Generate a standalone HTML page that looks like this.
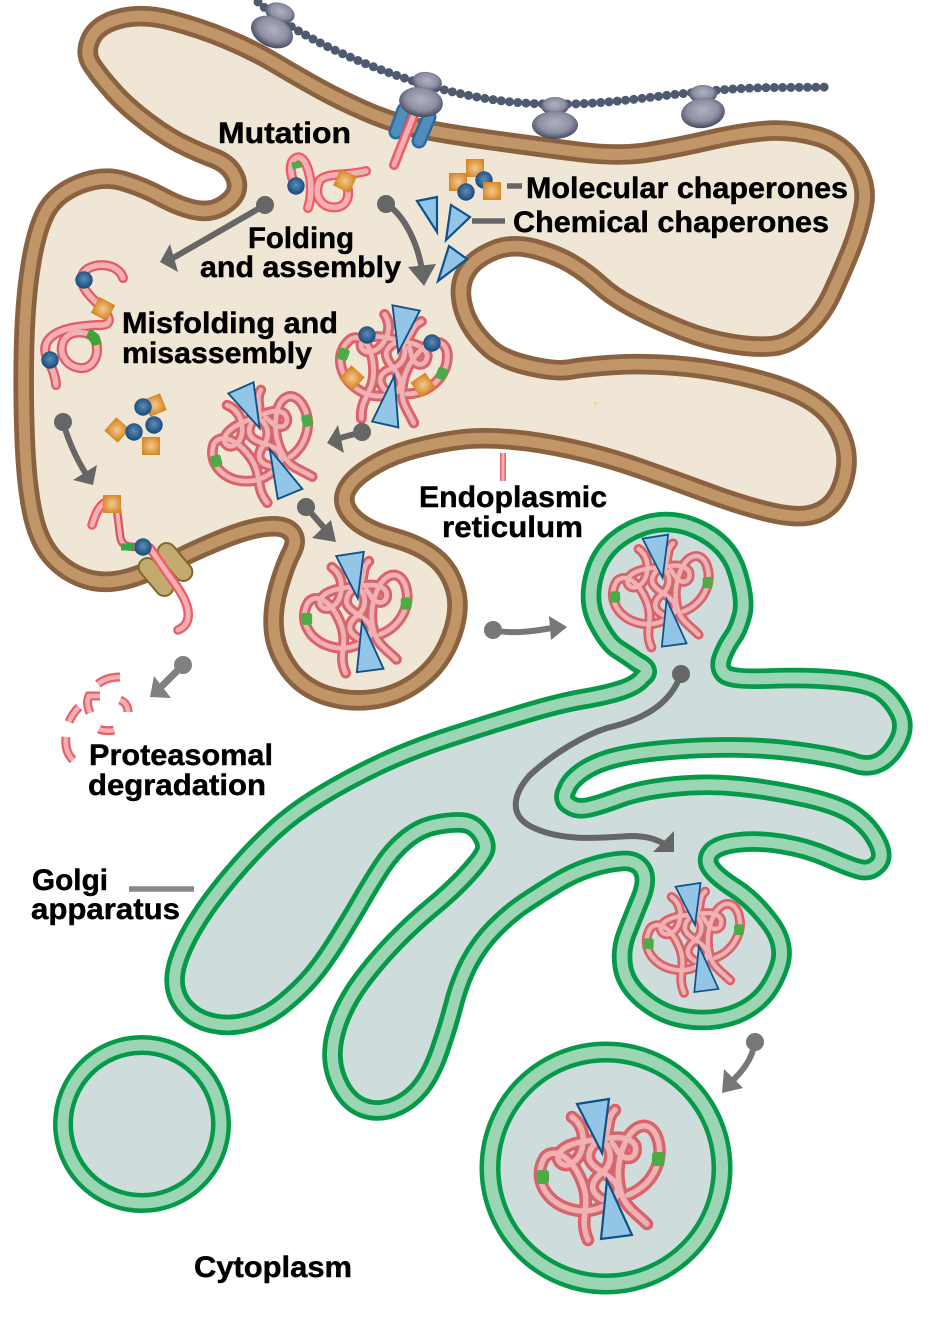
<!DOCTYPE html>
<html>
<head>
<meta charset="utf-8">
<style>
html,body{margin:0;padding:0;background:#fff;}
svg{display:block;}
text{font-family:"Liberation Sans",sans-serif;font-weight:700;font-size:30px;fill:#000;stroke:#000;stroke-width:.45px;}
</style>
</head>
<body>
<svg width="945" height="1320" viewBox="0 0 945 1320" xmlns="http://www.w3.org/2000/svg">
<defs>
<radialGradient id="rib" cx="50%" cy="42%" r="58%"><stop offset="0" stop-color="#b0b2c1"/><stop offset="0.6" stop-color="#8e90a3"/><stop offset="1" stop-color="#44475d"/></radialGradient>
<radialGradient id="blu" cx="50%" cy="45%" r="55%"><stop offset="0" stop-color="#5f8cb2"/><stop offset="1" stop-color="#14487c"/></radialGradient>
<radialGradient id="org" cx="50%" cy="50%" r="65%"><stop offset="0" stop-color="#f3c890"/><stop offset="1" stop-color="#d5821d"/></radialGradient>

<g id="sq"><rect x="-8.5" y="-8.5" width="17" height="17" fill="url(#org)" stroke="#d58a2a" stroke-width="1"/></g>
<g id="sp"><circle r="8.7" fill="url(#blu)"/></g>

<path id="erp" d="M92,65 Q84,53 91,38.5 Q98,24 120.5,18.5 Q143,13 171.5,20.5 Q200,28 226.5,39 Q253,50 276.5,64 Q300,78 320,89 Q340,100 365,111 Q390,122 415,127.5 Q440,133 490,140 Q540,147 580,152 Q620,157 650,152 Q680,147 710,140 Q740,133 765,131 Q790,129 816,136 Q842,143 855,164 Q868,185 863.5,207.5 Q859,230 850.5,251 Q842,272 832,293.5 Q822,315 806,329.5 Q790,344 773.5,346 Q757,348 732,344 Q707,340 682,330 Q657,320 635,308.5 Q613,297 600,285 Q587,273 572,264 Q557,255 535,249 Q513,243 495,250 Q477,257 468.5,268.5 Q460,280 461,295 Q462,310 469.5,323.5 Q477,337 490,348.5 Q503,360 530,366 Q557,372 570,369.5 Q583,367 611.5,365 Q640,363 673.5,365.5 Q707,368 740,375.5 Q773,383 793,391.5 Q813,400 825,411.5 Q837,423 843,440 Q849,457 845,475 Q841,493 832,503 Q823,513 808,515.5 Q793,518 766.5,511.5 Q740,505 706.5,492.5 Q673,480 640,468.5 Q607,457 573.5,449.5 Q540,442 511.5,439.5 Q483,437 461.5,439.5 Q440,442 415,448.5 Q390,455 370,467.5 Q350,480 345.5,492.5 Q341,505 353,517.5 Q365,530 392.5,537.5 Q420,545 435,557.5 Q450,570 455.5,590 Q461,610 451.5,636 Q442,662 421.5,678.5 Q401,695 375.5,699 Q350,703 326.5,695.5 Q303,688 289.5,669.5 Q276,651 274,630.5 Q272,610 278.5,587.5 Q285,565 291.5,552.5 Q298,540 291.5,532.5 Q285,525 267.5,526.5 Q250,528 225,538 Q200,548 180,558 Q160,568 135,576.5 Q110,585 90,580 Q70,575 55,560 Q40,545 33.5,517.5 Q27,490 25,445 Q23,400 24,350 Q25,300 31,263.5 Q37,227 47,210 Q57,193 80,184 Q103,175 123,181 Q143,187 161.5,197 Q180,207 195,210 Q210,213 221.5,206.5 Q233,200 236,191.5 Q239,183 233,173 Q227,163 213.5,158 Q200,153 183.5,145 Q167,137 147,122 Q127,107 113.5,92 Q100,77 92,65 Z"/>

<path id="gop" d="M642.5,677.5 Q653,670 637.5,662.5 Q627,655 617.5,649 Q608,643 597,621.5 Q586,600 595,571.5 Q604,543 635,529 Q666,515 697,529 Q728,543 737,571.5 Q746,600 742,615 Q738,630 732.5,637.5 Q727,645 722.5,656 Q718,667 724,673.5 Q730,680 768.5,678.5 Q807,677 838.5,680 Q870,683 881.5,691.5 Q893,700 899.5,713.5 Q906,727 898,742 Q890,757 879,762.5 Q868,768 854,763 Q840,758 806.5,753 Q773,748 740,747.5 Q707,747 673.5,749.5 Q640,752 618.5,757 Q597,762 583.5,771 Q570,780 566.5,790 Q561,800 570,805 Q577,810 588.5,807.5 Q600,805 620,797.5 Q640,790 673.5,786.5 Q707,783 740,786.5 Q773,790 806.5,797.5 Q840,805 855,816 Q870,827 877.5,842 Q885,857 877.5,864.5 Q870,872 860,869.5 Q850,867 828.5,857.5 Q807,848 782,844 Q757,840 737,842.5 Q717,845 711,852.5 Q705,860 711,868.5 Q717,877 735,888.5 Q753,900 770,922.5 Q787,945 779,967.5 Q771,990 756.5,1002 Q742,1014 722.5,1018 Q703,1022 682,1018 Q661,1014 643.5,999.5 Q626,985 623,967.5 Q620,950 626.5,933.5 Q633,917 640.5,898.5 Q648,880 642.5,870 Q637,860 622,861 Q607,862 590,867.5 Q573,873 556.5,883 Q540,893 525,903 Q510,913 495,928 Q480,943 470,961.5 Q460,980 453.5,1005 Q447,1030 438.5,1053.5 Q430,1077 418.5,1090 Q407,1103 392,1108 Q377,1113 363.5,1108 Q350,1103 341.5,1088 Q333,1073 332.5,1056.5 Q332,1040 339.5,1020 Q347,1000 362,980 Q377,960 395,941.5 Q413,923 433,906.5 Q453,890 468,873.5 Q483,857 485,850 Q487,843 480,833 Q473,823 461.5,822.5 Q450,822 435,825 Q420,828 406.5,839 Q393,850 383,865 Q373,880 361.5,900 Q350,920 336.5,941.5 Q323,963 311.5,976.5 Q300,990 283.5,1003.5 Q267,1017 248.5,1022 Q230,1027 213.5,1023.5 Q197,1020 187,1010 Q177,1000 175,986.5 Q173,973 180,955 Q187,937 200,917 Q213,897 233,873.5 Q253,850 273,831.5 Q293,813 320,796.5 Q347,780 378.5,765 Q410,750 451.5,736.5 Q493,723 526.5,713 Q560,703 583.5,699 Q607,695 622,690 Q637,685 642.5,677.5 Z"/>

<g id="tp">
<path d="M-12,78 C-22,55 -8,45 -18,20 C-28,-5 -45,-15 -55,-5 C-68,15 -55,40 -30,47 C-10,53 10,45 20,30"/>
<path d="M47,62 C35,50 25,45 21,30 C15,10 20,-10 27,-23 C35,-38 50,-42 57,-25 C66,0 50,25 28,33"/>
<path d="M-28,-45 C-18,-38 -14,-25 -19,-10 C-24,3 -38,8 -42,-3 C-42,-14 -28,-20 -5,-22 C10,-24 28,-28 35,-17 C38,-6 30,-2 24,-5 C18,-8 17,-13 12,-19"/>
<path d="M15,-52 C6,-44 10,-32 5,-25 C-3,-20 -12,-15 -11,-4 C-8,8 12,12 17,24 C20,34 8,42 0,36 C-12,28 -8,18 3,10 C12,2 12,-10 6,-18"/>
</g>
<g id="tangle">
<use href="#tp" fill="none" stroke="#ec5560" stroke-width="12.5" stroke-linecap="round" stroke-linejoin="round"/>
<use href="#tp" fill="none" stroke="#cc6c71" stroke-width="10" stroke-linecap="round" stroke-linejoin="round"/>
<use href="#tp" fill="none" stroke="#f3b0b3" stroke-width="5.5" stroke-linecap="round" stroke-linejoin="round"/>
<rect x="-63.5" y="8" width="12.5" height="14" rx="3" fill="#4cab44"/>
<rect x="52" y="-10" width="12.5" height="14" rx="3" fill="#4cab44"/>
<polygon points="-23,-58 9,-63 2,-9" fill="#93c6e6" stroke="#0f5288" stroke-width="2.2"/>
<polygon points="7,18 32,73 1,77" fill="#93c6e6" stroke="#0f5288" stroke-width="2.2"/>
</g>
</defs>

<!-- ER -->
<use href="#erp" fill="#efe6d6" stroke="#8a6240" stroke-width="20.5" stroke-linejoin="round"/>
<use href="#erp" fill="none" stroke="#c09568" stroke-width="11" stroke-linejoin="round"/>
<rect x="594" y="402" width="3" height="3" fill="#f5cf9f"/>

<!-- Golgi -->
<use href="#gop" fill="#cfdcdc" stroke="#059a4a" stroke-width="20.5" stroke-linejoin="round"/>
<use href="#gop" fill="none" stroke="#9bd5b4" stroke-width="11" stroke-linejoin="round"/>

<!-- Vesicles -->
<circle cx="142" cy="1124" r="79" fill="#cfdcdc" stroke="#059a4a" stroke-width="20"/>
<circle cx="142" cy="1124" r="79" fill="none" stroke="#9bd5b4" stroke-width="11"/>
<circle cx="606" cy="1168" r="116" fill="#cfdcdc" stroke="#059a4a" stroke-width="21"/>
<circle cx="606" cy="1168" r="116" fill="none" stroke="#9bd5b4" stroke-width="12"/>

<!-- Polysome -->
<path d="M258,2 C300,40 380,72 430,86 C480,100 520,105 570,104 C620,103 660,95 700,92 C750,86 790,88 828,87" fill="none" stroke="#4e5a70" stroke-width="9" stroke-linecap="round" stroke-dasharray="0 8.3"/>
<ellipse cx="280" cy="13" rx="15" ry="10" transform="rotate(18 280 13)" fill="url(#rib)"/>
<ellipse cx="272" cy="32" rx="22" ry="15" transform="rotate(24 272 32)" fill="url(#rib)"/>
<ellipse cx="555" cy="106" rx="14" ry="9" fill="url(#rib)"/>
<ellipse cx="555" cy="125" rx="23" ry="14" fill="url(#rib)"/>
<ellipse cx="703" cy="94" rx="14" ry="9" fill="url(#rib)"/>
<ellipse cx="703" cy="113" rx="22" ry="15" transform="rotate(-8 703 113)" fill="url(#rib)"/>

<!-- Translocon top -->
<g stroke-linecap="round" fill="none">
<path d="M404,110 L396,132" stroke="#2a6aa0" stroke-width="15"/>
<path d="M404,110 L396,132" stroke="#4f8dbd" stroke-width="10"/>
<path d="M429,117 L419,141" stroke="#2a6aa0" stroke-width="15"/>
<path d="M429,117 L419,141" stroke="#4f8dbd" stroke-width="10"/>
<path d="M415,112 L394,165" stroke="#ef5a64" stroke-width="10"/>
<path d="M415,112 L394,165" stroke="#f3b0b3" stroke-width="5"/>
</g>
<ellipse cx="427" cy="82" rx="15" ry="10" transform="rotate(8 427 82)" fill="url(#rib)"/>
<ellipse cx="421" cy="102" rx="22" ry="15" transform="rotate(8 421 102)" fill="url(#rib)"/>

<!-- Mutation protein -->
<g fill="none" stroke-linecap="round" stroke-linejoin="round">
<path d="M308,208 C316,185 306,152 296,158 C288,162 291,175 293,180 M366,171 C350,176 328,172 320,180 C312,195 322,210 338,207 C350,204 350,190 345,183" stroke="#ef5a64" stroke-width="10"/>
<path d="M308,208 C316,185 306,152 296,158 C288,162 291,175 293,180 M366,171 C350,176 328,172 320,180 C312,195 322,210 338,207 C350,204 350,190 345,183" stroke="#f3b0b3" stroke-width="5.5"/>
<path d="M292,166 L301,164" stroke="#4cab44" stroke-width="7" stroke-linecap="butt"/>
</g>
<use href="#sp" x="296" y="186"/>
<use href="#sq" transform="translate(345,181) rotate(25)"/>

<!-- Chaperones top -->
<use href="#sq" x="458" y="182"/>
<use href="#sq" x="475" y="168"/>
<use href="#sp" x="484" y="180"/>
<use href="#sq" x="492" y="191"/>
<use href="#sp" x="466" y="192"/>
<g fill="#93c6e6" stroke="#0f5288" stroke-width="2.2">
<polygon points="417,201 437,197 437,232"/>
<polygon points="451,205 470,217 446,240"/>
<polygon points="449,246 467,259 438,281"/>
</g>
<path d="M507,186 H522" stroke="#666" stroke-width="5.5"/>
<path d="M472,221 H505" stroke="#666" stroke-width="5.5"/>

<!-- Misfolded left protein -->
<g fill="none" stroke-linecap="round" stroke-linejoin="round">
<path d="M123,278 C118,262 92,262 84,272 C76,285 92,298 100,306 C112,318 112,326 98,325 C80,326 55,328 47,342 C40,356 55,365 56,385 M95,338 C85,330 68,330 63,342 C58,355 68,367 80,368 C92,369 97,358 97,350 C97,345 96,341 95,338" stroke="#e35a64" stroke-width="10"/>
<path d="M123,278 C118,262 92,262 84,272 C76,285 92,298 100,306 C112,318 112,326 98,325 C80,326 55,328 47,342 C40,356 55,365 56,385 M95,338 C85,330 68,330 63,342 C58,355 68,367 80,368 C92,369 97,358 97,350 C97,345 96,341 95,338" stroke="#f3b0b3" stroke-width="5.5"/>
<path d="M88,333 Q95,337 97,345" stroke="#3fa53a" stroke-width="10" stroke-linecap="butt"/>
</g>
<use href="#sp" x="84" y="280"/>
<use href="#sq" transform="translate(103,309) rotate(28)"/>
<use href="#sp" x="50" y="360"/>

<use href="#sq" transform="translate(155,405) rotate(-22)"/>
<use href="#sp" x="143" y="407"/>
<use href="#sp" x="154" y="425"/>
<use href="#sq" transform="translate(117,430) rotate(42)"/>
<use href="#sp" x="134" y="432"/>
<use href="#sq" x="151" y="446"/>

<!-- Tangles -->
<use href="#tangle" transform="translate(394,359) rotate(20) scale(0.86)"/>
<use href="#sp" x="367" y="335"/>
<use href="#sp" x="432" y="343"/>
<use href="#sq" transform="translate(352,378) rotate(42)"/>
<use href="#sq" transform="translate(423,385) rotate(-35)"/>

<use href="#tangle" transform="translate(260,436) rotate(-15) scale(0.85)"/>
<use href="#tangle" transform="translate(356,606) scale(0.86)"/>
<use href="#tangle" transform="translate(661,585) scale(0.8)"/>
<use href="#tangle" transform="translate(693.5,932) scale(0.78)"/>
<use href="#tangle" transform="translate(600,1162)"/>

<!-- ERAD protein -->
<g fill="none" stroke-linecap="round" stroke-linejoin="round">
<path d="M92,525 C96,512 100,503 110,500" stroke="#ef5a64" stroke-width="9.5"/>
<path d="M92,525 C96,512 100,503 110,500" stroke="#f3b0b3" stroke-width="5"/>
<path d="M117,510 L120,535 C121,545 126,547 135,547" stroke="#d95560" stroke-width="8.5"/>
<path d="M117,510 L120,535 C121,545 126,547 135,547" stroke="#f3b0b3" stroke-width="4"/>
<path d="M121,547 L134,547" stroke="#2faa44" stroke-width="7" stroke-linecap="butt"/>
</g>
<rect x="-9" y="-22" width="18" height="44" rx="9" transform="translate(175,562) rotate(-40)" fill="#c2aa70" stroke="#7e6a26" stroke-width="2"/>
<rect x="-9" y="-22" width="18" height="44" rx="9" transform="translate(156,577) rotate(-40)" fill="#c2aa70" stroke="#7e6a26" stroke-width="2"/>
<g fill="none" stroke-linecap="round">
<path d="M150,548 L170,577 C180,590 190,605 188,618 C187,624 183,628 178,630" stroke="#ef5a64" stroke-width="9.5"/>
<path d="M150,548 L170,577 C180,590 190,605 188,618 C187,624 183,628 178,630" stroke="#f3b0b3" stroke-width="5"/>
</g>
<use href="#sq" x="112" y="504"/>
<use href="#sp" x="143" y="547"/>

<!-- Degraded fragments -->
<g fill="none" stroke-linecap="butt" stroke-width="9" stroke="#e8606a">
<path d="M98,684 C104,679 112,677 120,677"/>
<path d="M79,707 C75,711 71,717 69,722"/>
<path d="M66,737 C65,746 67,754 73,760"/>
<path d="M90,713 C87,706 87,700 89,696 H100"/>
<path d="M120,700 C125,702 128,706 128,712"/>
<path d="M99,729 C103,731 110,731 114,730"/>
</g>
<g fill="none" stroke-linecap="butt" stroke-width="4.5" stroke="#f3b0b3">
<path d="M98,684 C104,679 112,677 120,677"/>
<path d="M79,707 C75,711 71,717 69,722"/>
<path d="M66,737 C65,746 67,754 73,760"/>
<path d="M90,713 C87,706 87,700 89,696 H100"/>
<path d="M120,700 C125,702 128,706 128,712"/>
<path d="M99,729 C103,731 110,731 114,730"/>
</g>

<!-- Arrows -->
<g fill="none" stroke="#666" stroke-width="6">
<path d="M265,205 L173,258"/>
<path d="M386,204 C405,215 418,245 422,270"/>
<path d="M362,432 L340,438"/>
<path d="M63,422 C68,440 76,458 86,474"/>
<path d="M306,507 L326,530"/>
<path d="M493,630 C510,634 530,632 552,628" stroke="#777"/>
<path d="M681,674 C672,700 650,718 607,728 C585,735 555,752 530,775 C512,795 510,815 530,826 C560,842 600,838 630,836 C645,836 655,838 668,846"/>
<path d="M755,1042 C752,1060 742,1072 730,1083" stroke="#777"/>
<path d="M183,665 L160,688" stroke="#808080" stroke-width="7"/>
</g>
<g fill="#666">
<circle cx="265" cy="205" r="9"/><polygon points="160,262 170,244 178,272"/>
<circle cx="386" cy="204" r="9"/><polygon points="408,267 436,264 424,286"/>
<circle cx="362" cy="432" r="9"/><polygon points="327,443 338,425 344,453"/>
<circle cx="63" cy="422" r="9"/><polygon points="93,485 73,480 97,465"/>
<circle cx="306" cy="507" r="9"/><polygon points="336,542 312,538 331,520"/>
<circle cx="493" cy="630" r="9" fill="#777"/><polygon points="567,627 549,616 551,640" fill="#777"/>
<circle cx="681" cy="674" r="9"/><polygon points="674,831 674,852 653,852"/>
<circle cx="755" cy="1042" r="9" fill="#777"/><polygon points="722,1093 724,1069 743,1088" fill="#777"/>
<circle cx="183" cy="665" r="9" fill="#808080"/><polygon points="150,697 154,676 171,698" fill="#808080"/>
</g>
<path d="M129,889 H194" stroke="#888" stroke-width="5.5"/>
<path d="M503,453 V481" stroke="#e8606a" stroke-width="6"/>
<path d="M503,453 V481" stroke="#f3b0b3" stroke-width="3"/>

<!-- Labels -->
<text x="218" y="143" textLength="133" lengthAdjust="spacingAndGlyphs">Mutation</text>
<text x="526" y="198" textLength="322" lengthAdjust="spacingAndGlyphs">Molecular chaperones</text>
<text x="513" y="232" textLength="316" lengthAdjust="spacingAndGlyphs">Chemical chaperones</text>
<text x="248" y="248" textLength="106" lengthAdjust="spacingAndGlyphs">Folding</text>
<text x="200" y="277" textLength="201" lengthAdjust="spacingAndGlyphs">and assembly</text>
<text x="122" y="333" textLength="216" lengthAdjust="spacingAndGlyphs">Misfolding and</text>
<text x="122" y="363" textLength="190" lengthAdjust="spacingAndGlyphs">misassembly</text>
<text x="419" y="507" textLength="188" lengthAdjust="spacingAndGlyphs">Endoplasmic</text>
<text x="442" y="537" textLength="141" lengthAdjust="spacingAndGlyphs">reticulum</text>
<text x="89" y="765" textLength="184" lengthAdjust="spacingAndGlyphs">Proteasomal</text>
<text x="88" y="795" textLength="178" lengthAdjust="spacingAndGlyphs">degradation</text>
<text x="32" y="890" textLength="76" lengthAdjust="spacingAndGlyphs">Golgi</text>
<text x="31" y="919" textLength="149" lengthAdjust="spacingAndGlyphs">apparatus</text>
<text x="194" y="1277" textLength="158" lengthAdjust="spacingAndGlyphs">Cytoplasm</text>
</svg>
</body>
</html>
